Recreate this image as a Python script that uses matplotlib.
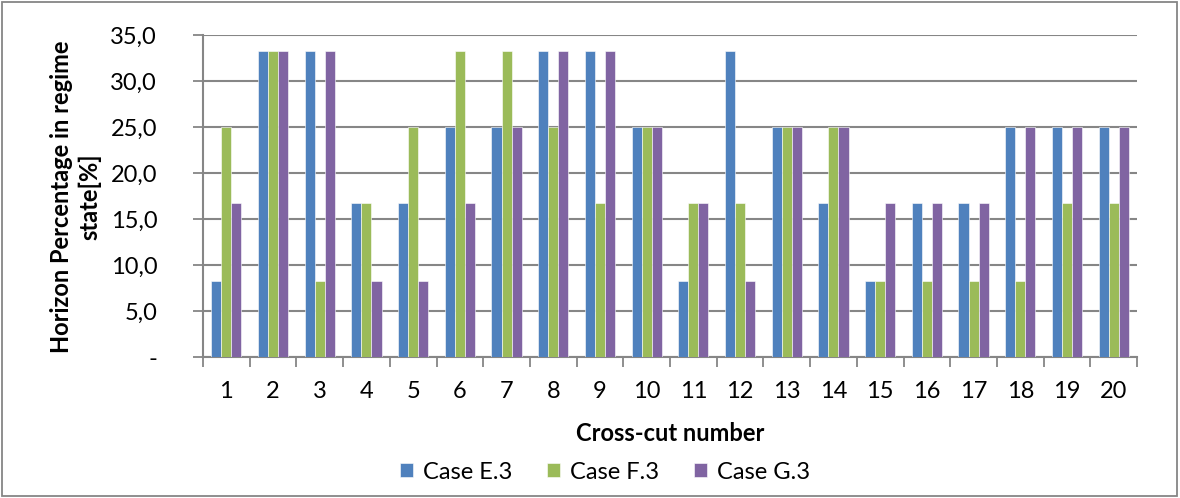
import matplotlib
matplotlib.use("Agg")
import matplotlib.pyplot as plt
import numpy as np
from matplotlib.ticker import FuncFormatter, FixedLocator
from matplotlib.patches import Rectangle

plt.rcParams['font.family'] = ['Lato', 'DejaVu Sans']

cuts = [str(i) for i in range(1, 21)]
case_e = [8.3, 33.3, 33.3, 16.7, 16.7, 25.0, 25.0, 33.3, 33.3, 25.0,
          8.3, 33.3, 25.0, 16.7, 8.3, 16.7, 16.7, 25.0, 25.0, 25.0]
case_f = [25.0, 33.3, 8.3, 16.7, 25.0, 33.3, 33.3, 25.0, 16.7, 25.0,
          16.7, 16.7, 25.0, 25.0, 8.3, 8.3, 8.3, 8.3, 16.7, 16.7]
case_g = [16.7, 33.3, 33.3, 8.3, 8.3, 16.7, 25.0, 33.3, 33.3, 25.0,
          16.7, 8.3, 25.0, 25.0, 16.7, 16.7, 16.7, 25.0, 25.0, 25.0]
series_names = ["Case E.3", "Case F.3", "Case G.3"]
colors = ["#4F81BD", "#9BBB59", "#8064A2"]

FS = 17

fig = plt.figure(figsize=(11.8, 4.98), dpi=100)
ax = fig.add_axes([203/1180, 1 - 357/498, (1137-203)/1180, (357-35)/498])

x = np.arange(len(cuts))
w = 0.215
for k, (vals, name, c) in enumerate(zip([case_e, case_f, case_g], series_names, colors)):
    ax.bar(x + (k - 1) * w, vals, width=w, color=c, label=name,
           edgecolor="white", linewidth=0.4, zorder=3)

ax.set_xlim(-0.5, len(cuts) - 0.5)
ax.set_ylim(0, 35)
ax.set_yticks(np.arange(0, 36, 5))
ax.yaxis.set_major_formatter(FuncFormatter(
    lambda v, p: "-" if v == 0 else f"{v:.1f}".replace(".", ",")))
ax.set_xticks(x)
ax.set_xticklabels(cuts)
ax.xaxis.set_minor_locator(FixedLocator(np.arange(-0.5, len(cuts), 1)))
ax.tick_params(axis="x", which="major", length=0, labelsize=FS, pad=17)
ax.tick_params(axis="x", which="minor", length=7, width=1.3, color="#868686")
ax.tick_params(axis="y", length=7, width=1.3, color="#868686", labelsize=FS, pad=26)

ax.grid(axis="y", color="#868686", linewidth=1.5, zorder=0)
ax.set_axisbelow(True)
for s in ["top", "right"]:
    ax.spines[s].set_visible(False)
for s in ["left", "bottom"]:
    ax.spines[s].set_color("#868686")
    ax.spines[s].set_linewidth(1.5)

fig.text(670/1180, 1 - 433/498, "Cross-cut number", ha="center", va="center",
         fontsize=FS, fontweight="bold")
fig.text(76/1180, 1 - 197/498, "Horizon Percentage in regime\nstate[%]",
         ha="center", va="center", rotation=90, fontsize=FS,
         fontweight="bold", linespacing=1.25)

leg = fig.legend(loc="center", bbox_to_anchor=(605/1180, 1 - 472/498), ncol=3,
                 frameon=False, fontsize=FS, handlelength=0.55, handleheight=0.55,
                 handletextpad=0.4, columnspacing=1.5)

fig.patches.append(Rectangle((2/1180, 2/498), 1175/1180, 494/498,
                             transform=fig.transFigure, fill=False,
                             edgecolor="#868686", linewidth=1.3))

fig.savefig("out.png", dpi=100)
